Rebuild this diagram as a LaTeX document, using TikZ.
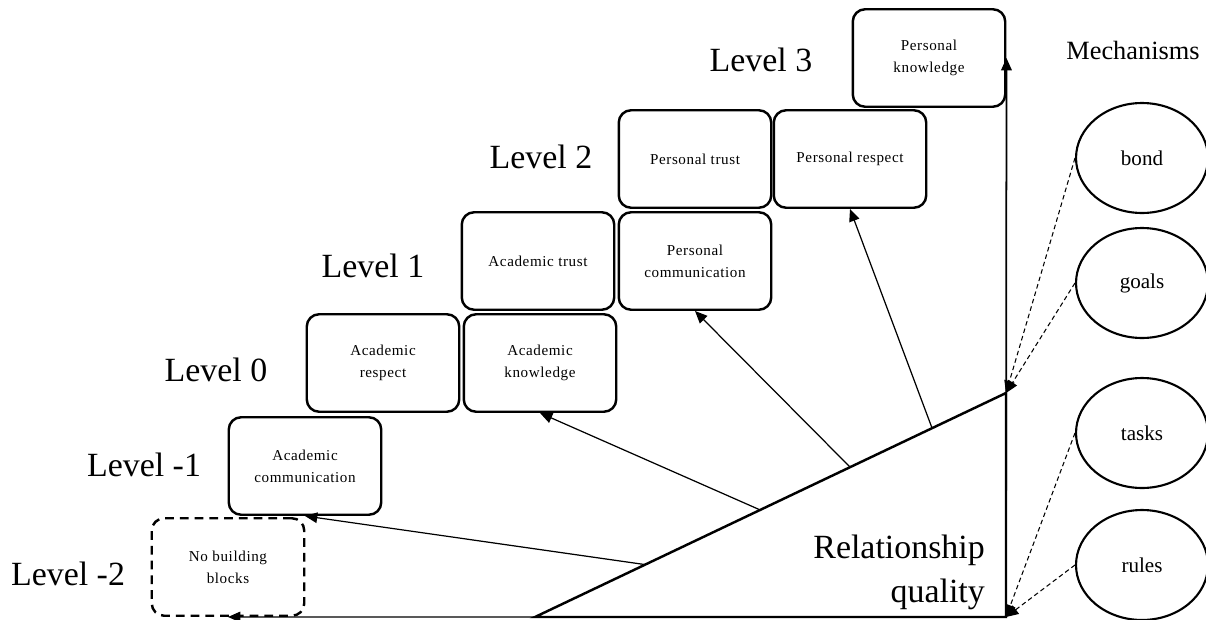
\documentclass[tikz,border=0pt]{standalone}
\usepackage{fontspec}
\setmainfont{Liberation Serif}
\newfontfamily\blockfont[LetterSpace=4]{Liberation Serif}
\usetikzlibrary{arrows.meta,shapes.geometric,calc}

\tikzset{
  block/.style={draw, line width=1.4pt, rounded corners=7pt, minimum width=3.05cm,
    minimum height=1.95cm, align=center, inner sep=2pt,
    font=\blockfont\fontsize{8.6}{12.5}\selectfont},
  nolevel/.style={block, dash pattern=on 5pt off 3.4pt},
  levellabel/.style={font=\fontsize{19.3}{23}\selectfont},
  mech/.style={draw, ellipse, line width=1.2pt, minimum width=2.64cm, minimum height=2.2cm,
    inner sep=0pt, font=\fontsize{12}{14}\selectfont},
  rise/.style={line width=0.7pt, -{Triangle[length=7pt,width=6pt]}},
  link/.style={line width=0.6pt, dash pattern=on 2.6pt off 1.8pt, -{Triangle[length=7pt,width=6pt]}}
}

\begin{document}
\begin{tikzpicture}[x=0.02cm, y=-0.02cm]
    \useasboundingbox (0,0) rectangle (1206,619);

    % Bloques
    \node[nolevel] (nbb) at (228,567) {No building\\blocks};
    \node[block] (acom) at (305,466) {Academic\\communication};
    \node[block] (aresp) at (383,363) {Academic\\respect};
    \node[block] (aknow) at (540,363) {Academic\\knowledge};
    \node[block] (atrust) at (538,261) {Academic trust};
    \node[block] (pcom) at (695,261) {Personal\\communication};
    \node[block] (ptrust) at (695,159) {Personal trust};
    \node[block] (presp) at (850,159) {Personal respect};
    \node[block] (pknow) at (929,58) {Personal\\knowledge};

    % Niveles
    \node[levellabel] (lvm2) at (68,574) {Level -2};
    \node[levellabel] (lvm1) at (144,465) {Level -1};
    \node[levellabel] (lv0) at (216,370) {Level 0};
    \node[levellabel] (lv1) at (373,266) {Level 1};
    \node[levellabel] (lv2) at (541,157) {Level 2};
    \node[levellabel] (lv3) at (761,60) {Level 3};

    % Triangulo
    \coordinate (tl) at (535,617);
    \coordinate (tr) at (1006,393);
    \coordinate (br) at (1006,617);
    \draw[line width=1.4pt, line join=miter] (tl) -- (tr) -- (br) -- cycle;
    \node[levellabel, align=right, anchor=east, font=\fontsize{19.3}{25}\selectfont]
      (rq) at (991,572) {Relationship\\quality};

    % Flechas desde la hipotenusa
    \draw[rise] (tl) -- (nbb.south);
    \draw[rise] ($(tl)!0.234!(tr)$) coordinate (h1) -- (acom.south);
    \draw[rise] ($(tl)!0.478!(tr)$) coordinate (h2) -- (aknow.south);
    \draw[rise] ($(tl)!0.669!(tr)$) coordinate (h3) -- (pcom.south);
    \draw[rise] ($(tl)!0.843!(tr)$) coordinate (h4) -- (presp.south);
    \draw[rise, line width=1pt] (br) -- (pknow.east);

    % Mecanismos
    \node[font=\fontsize{15}{18}\selectfont] (mechs) at (1133,50) {Mechanisms};
    \node[mech] (bond) at (1142,158) {bond};
    \node[mech] (goals) at (1142,283) {goals};
    \node[mech] (tasks) at (1142,433) {tasks};
    \node[mech] (rules) at (1142,565) {rules};

    \draw[link] (bond.west) -- (tr);
    \draw[link] (goals.west) -- (tr);
    \draw[link] (tasks.west) -- (br);
    \draw[link] (rules.west) -- (br);
\end{tikzpicture}
\end{document}
